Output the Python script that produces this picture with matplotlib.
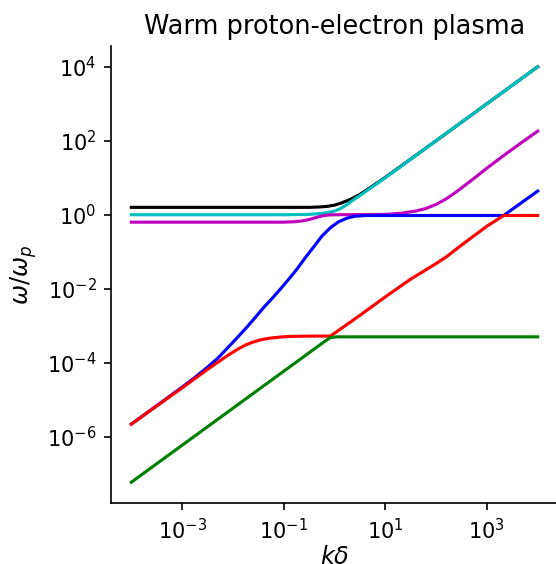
import numpy as np
import matplotlib
matplotlib.use("Agg")
import matplotlib.pyplot as plt

# values, as log10(k delta) and log10(omega/omega_p)
logk_black = [-4.0, -0.5, -0.3, -0.15, 0.0, 0.12, 0.23, 0.35, 0.5, 0.7, 1.0,
              2.0, 3.0, 4.0]
logw_black = [0.20, 0.20, 0.21, 0.225, 0.26, 0.31, 0.37, 0.44, 0.55, 0.73, 1.01,
              2.0, 3.0, 4.0]

logk_cyan = [-4.0, -1.0, -0.5, -0.3, -0.15, 0.0, 0.12, 0.23, 0.35, 0.5, 0.7,
             1.0, 2.0, 3.0, 4.0]
logw_cyan = [0.0, 0.0, 0.01, 0.03, 0.055, 0.10, 0.17, 0.26, 0.38, 0.52, 0.71,
             1.0, 2.0, 3.0, 4.0]

logk_mag = [-4.0, -1.0, -0.8, -0.65, -0.5, -0.4, -0.3, -0.2, -0.1, 0.0, 1.0,
            1.3, 1.6, 1.8, 2.0, 2.2, 2.4, 2.6, 2.8, 3.0, 3.3, 3.6, 4.0]
logw_mag = [-0.20, -0.20, -0.19, -0.17, -0.13, -0.09, -0.05, -0.02, -0.005,
            0.0, 0.01, 0.04, 0.10, 0.17, 0.28, 0.43, 0.62, 0.83, 1.04, 1.26,
            1.57, 1.87, 2.26]

logk_blue = [-4.0, -3.5, -3.0, -2.75, -2.5, -2.3, -2.05, -1.88, -1.72, -1.55,
             -1.39, -1.22, -1.06, -0.9, -0.74, -0.58, -0.41, -0.25, -0.08,
             0.08, 0.25, 0.4, 0.6, 1.0, 3.33, 4.0]
logw_blue = [-5.66, -5.16, -4.66, -4.40, -4.12, -3.88, -3.52, -3.27, -3.03,
             -2.76, -2.50, -2.25, -2.00, -1.74, -1.47, -1.17, -0.87, -0.58,
             -0.35, -0.19, -0.09, -0.04, -0.02, -0.02, -0.02, 0.64]

logk_red = [-4.0, -3.0, -2.5, -2.3, -2.1, -1.9, -1.75, -1.6, -1.45, -1.3,
            -1.1, -0.9, -0.5, -0.08, 0.5, 1.0, 1.5, 2.0, 2.2, 2.5, 3.0, 3.33,
            4.0]
logw_red = [-5.66, -4.68, -4.18, -3.99, -3.80, -3.63, -3.52, -3.44, -3.38,
            -3.34, -3.31, -3.29, -3.28, -3.28, -2.72, -2.22, -1.74, -1.32,
            -1.14, -0.82, -0.31, -0.02, -0.02]

logk_green = [-4.0, -0.2, -0.08, 0.05, 4.0]
logw_green = [-7.23, -3.43, -3.32, -3.30, -3.30]

curves = [(logk_black, logw_black, 'k'),
          (logk_cyan, logw_cyan, 'c'),
          (logk_mag, logw_mag, 'm'),
          (logk_blue, logw_blue, 'b'),
          (logk_red, logw_red, 'r'),
          (logk_green, logw_green, 'g')]

plt.rcParams['font.size'] = 10

fig = plt.figure(figsize=(556/150, 564/150), dpi=150)
ax = fig.add_axes([111/556, 61/564, 447/556, 457/564])

for lk, lw, col in curves:
    ax.plot(10.0**np.array(lk), 10.0**np.array(lw), color=col, lw=1.5)

ax.set_xscale('log')
ax.set_yscale('log')
ax.set_xticks([1e-3, 1e-1, 1e1, 1e3])
ax.set_yticks([1e-6, 1e-4, 1e-2, 1e0, 1e2, 1e4])
ax.xaxis.set_minor_locator(matplotlib.ticker.NullLocator())
ax.yaxis.set_minor_locator(matplotlib.ticker.NullLocator())
ax.spines['top'].set_visible(False)
ax.spines['right'].set_visible(False)

ax.set_xlabel(r'$k\delta$', fontsize=11.5, labelpad=1)
ax.set_ylabel(r'$\omega/\omega_p$', fontsize=11.5)
ax.set_title('Warm proton-electron plasma', fontsize=12.3)

fig.savefig('out.png', dpi=150)
